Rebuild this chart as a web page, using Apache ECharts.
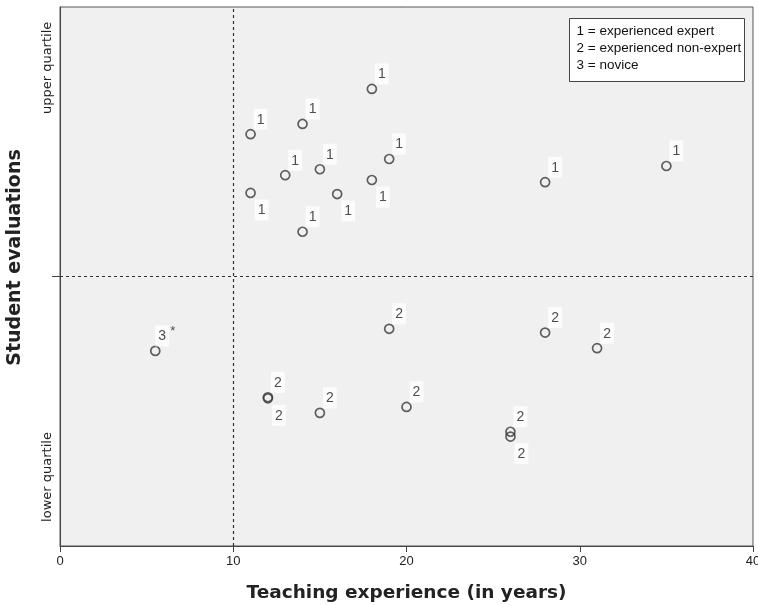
<!DOCTYPE html>
<html>
<head>
<meta charset="utf-8">
<script src="https://cdn.jsdelivr.net/npm/echarts@6/dist/echarts.min.js"></script>
<style>html,body{margin:0;padding:0;background:#fff;}#c{width:758px;height:605px;}</style>
</head>
<body>
<div id="c"></div>
<script>
// Teaching experience (years)
const experience = [18, 11, 14, 13, 15, 19, 11, 16, 18, 14, 28, 35,
                    19, 28, 31, 12, 12, 15, 20, 26, 26, 5.5];
// Student evaluation (relative position, 0 = bottom, 100 = top, 50 = median)
const evaluation = [84.8, 76.4, 78.3, 68.8, 69.9, 71.8, 65.5, 65.3, 67.9, 58.3, 67.5, 70.5,
                    40.3, 39.6, 36.7, 27.6, 27.4, 24.7, 25.8, 21.2, 20.3, 36.2];
// Teacher group: 1 = experienced expert, 2 = experienced non-expert, 3 = novice
const group = [1,1,1,1,1,1,1,1,1,1,1,1, 2,2,2,2,2,2,2,2,2, 3];
// which point labels sit below the marker
const labelBelow = [6, 7, 8, 16, 20];
const xTicks = [0, 10, 20, 30, 40];
const yLabels = [{v: 88.7, t: 'upper quartile'}, {v: 12.8, t: 'lower quartile'}];
const legendLines = ['1 = experienced expert', '2 = experienced non-expert', '3 = novice'];

const FONT = 'Liberation Sans, Arial, sans-serif';
const WIDE = 'DejaVu Sans, sans-serif';
const chart = echarts.init(document.getElementById('c'), null, {renderer: 'canvas'});

const data = experience.map((x, i) => {
  const below = labelBelow.includes(i);
  const g = group[i];
  return {
    value: [x, evaluation[i]],
    label: {
      show: true,
      position: 'inside',
      offset: below ? [11, 17] : [10, -15],
      formatter: g === 3 ? '{a|3}{s|*}' : '{a|' + g + '}',
      rich: {
        a: {fontSize: 14, fontFamily: FONT, color: '#222', backgroundColor: '#fff', padding: [4, 3, 3, 3]},
        s: {fontSize: 13, fontFamily: FONT, color: '#222', padding: [0, 0, 8, 1]}
      }
    }
  };
});

chart.setOption({
  animation: false,
  backgroundColor: '#fff',
  grid: {left: 60, right: 5, top: 7, bottom: 59, outerBoundsMode: 'none', containLabel: false,
         show: true, backgroundColor: '#f0f0f0', borderColor: '#555', borderWidth: 1},
  xAxis: {
    type: 'value', min: 0, max: 40, interval: 10,
    name: 'Teaching experience (in years)', nameLocation: 'middle', nameGap: 38,
    nameTextStyle: {fontSize: 18.5, fontWeight: 'bold', fontFamily: WIDE, color: '#222'},
    axisLine: {show: true, onZero: false, lineStyle: {color: '#444', width: 1}},
    axisTick: {show: true, length: 6, lineStyle: {color: '#444'}},
    axisLabel: {fontSize: 13, fontFamily: FONT, color: '#222', margin: 9},
    splitLine: {show: false}
  },
  yAxis: {
    type: 'value', min: 0, max: 100,
    name: 'Student evaluations', nameLocation: 'middle', nameGap: 35,
    nameTextStyle: {fontSize: 19, fontWeight: 'bold', fontFamily: WIDE, color: '#222', padding: [0, 0, 0, 38]},
    axisLine: {show: true, onZero: false, lineStyle: {color: '#444', width: 1}},
    axisTick: {show: true, length: 8, customValues: [50], lineStyle: {color: '#444'}},
    axisLabel: {
      rotate: 90, margin: 6, fontSize: 13, fontFamily: WIDE, color: '#222',
      customValues: yLabels.map(d => d.v),
      formatter: v => { const f = yLabels.find(d => Math.abs(d.v - v) < 0.01); return f ? f.t : ''; }
    },
    splitLine: {show: false}
  },
  series: [{
    type: 'scatter',
    symbol: 'circle',
    symbolSize: 9,
    itemStyle: {color: 'rgba(0,0,0,0)', borderColor: '#3a3a3a', borderWidth: 1.7},
    data: data,
    markLine: {
      silent: true, symbol: 'none', label: {show: false},
      lineStyle: {type: [3, 3], color: '#333', width: 1.2},
      data: [{xAxis: 10}, {yAxis: 50}]
    }
  }],
  graphic: [{
    type: 'group', right: 13, top: 18,
    children: [
      {type: 'rect', shape: {x: 0, y: 0, width: 175, height: 63}, style: {fill: '#fff', stroke: '#444', lineWidth: 1}},
      ...legendLines.map((t, i) => ({
        type: 'text', x: 7, y: 6 + i * 17,
        style: {text: t, fontSize: 13.5, fontFamily: FONT, fill: '#111'}
      }))
    ]
  }]
});
</script>
</body>
</html>
